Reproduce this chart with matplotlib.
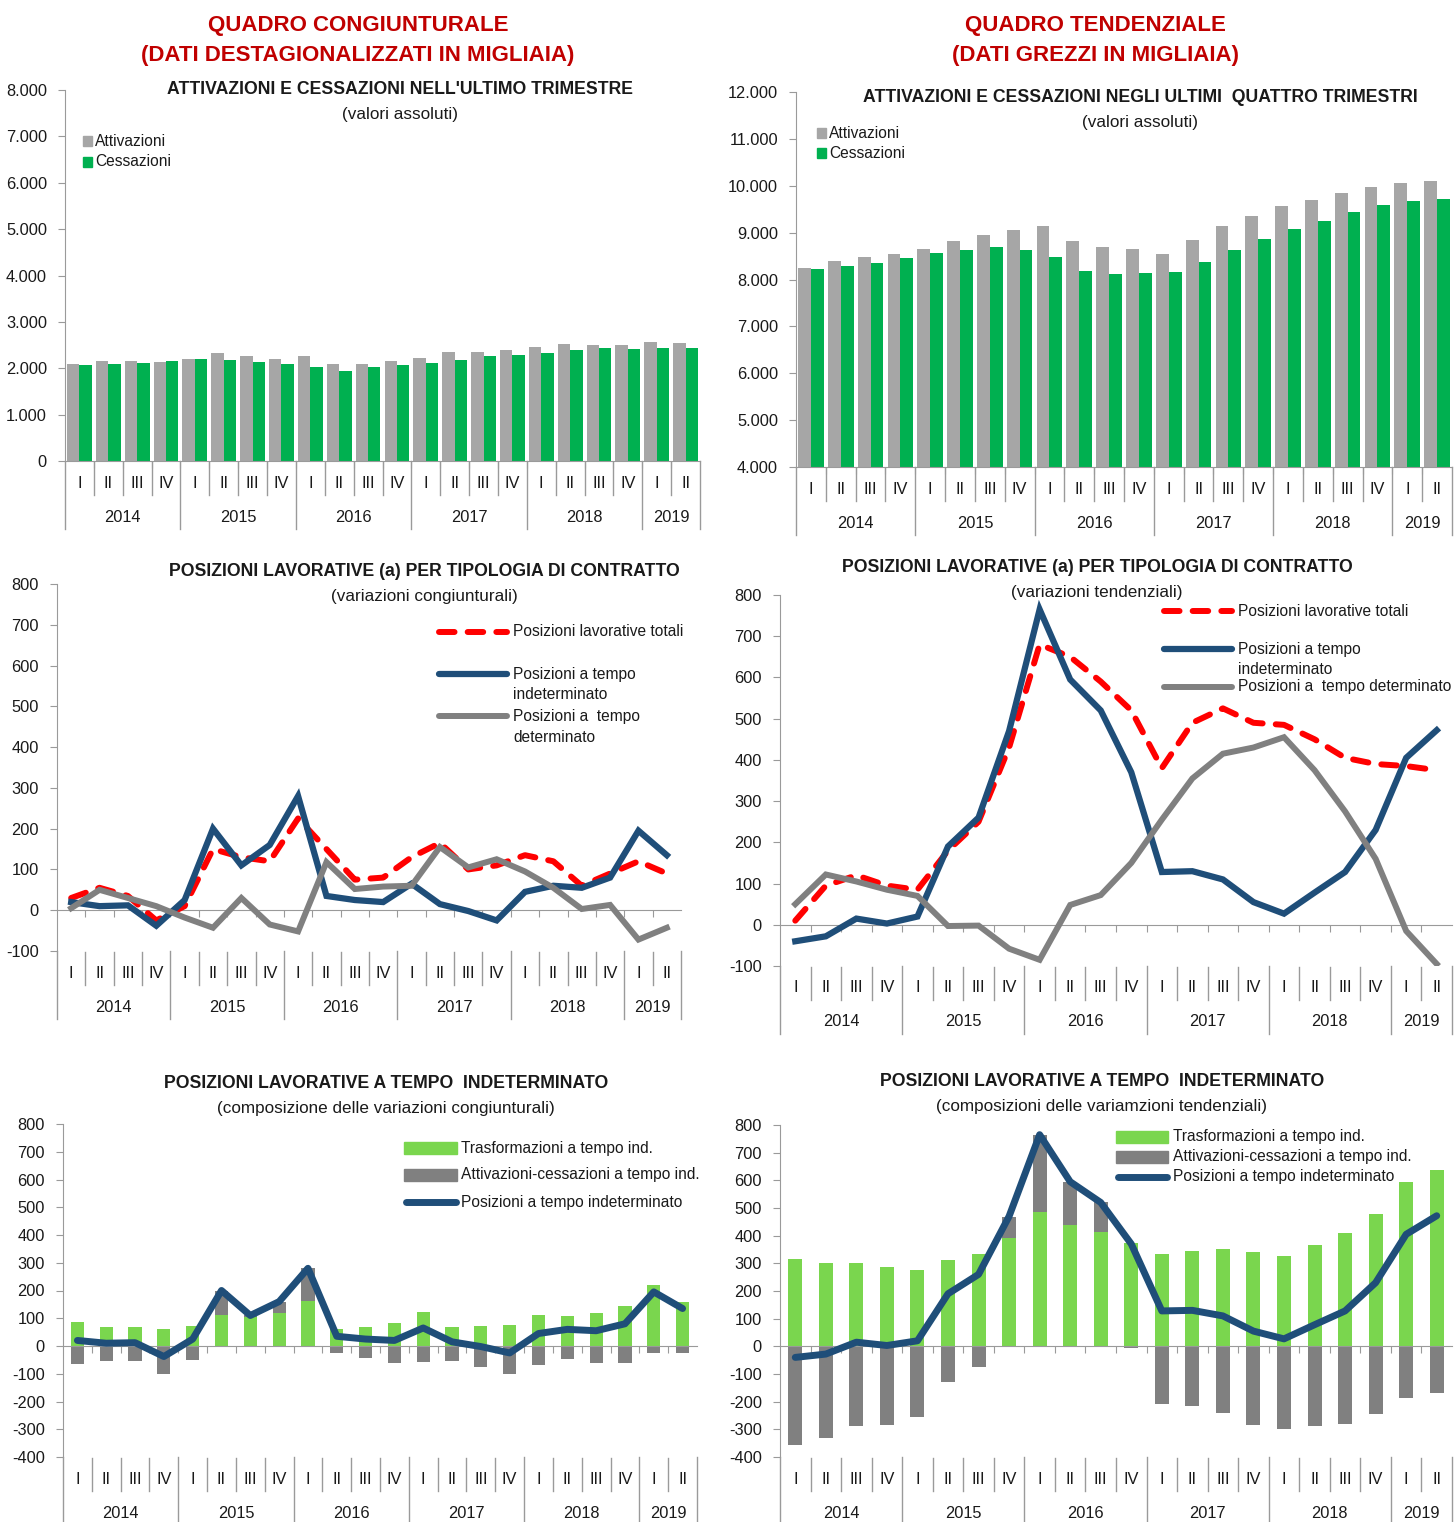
import matplotlib
matplotlib.use('Agg')
import matplotlib.pyplot as plt
import numpy as np
from matplotlib.lines import Line2D
from matplotlib.patches import Rectangle
from matplotlib.ticker import FuncFormatter

plt.rcParams['font.family'] = ['Liberation Sans', 'DejaVu Sans']
plt.rcParams['axes.unicode_minus'] = False

W, H = 1455, 1522

# --- data (migliaia) ---
quarters = ['I', 'II', 'III', 'IV'] * 5 + ['I', 'II']
years = ['2014', '2015', '2016', '2017', '2018', '2019']
year_len = [4, 4, 4, 4, 4, 2]

# congiunturale, valori assoluti ultimo trimestre
att_cong = [2100, 2150, 2150, 2125, 2190, 2330, 2270, 2210, 2260, 2100, 2100, 2150,
            2230, 2350, 2360, 2390, 2460, 2520, 2500, 2510, 2560, 2540]
cess_cong = [2075, 2100, 2110, 2150, 2190, 2180, 2130, 2090, 2030, 1940, 2020, 2080,
             2110, 2180, 2260, 2280, 2320, 2400, 2440, 2410, 2430, 2440]

# tendenziale, ultimi quattro trimestri
att_tend = [8240, 8390, 8480, 8550, 8650, 8820, 8940, 9050, 9150, 8820, 8700, 8650,
            8550, 8850, 9150, 9350, 9560, 9700, 9840, 9970, 10060, 10100]
cess_tend = [8230, 8290, 8360, 8460, 8570, 8630, 8690, 8640, 8470, 8180, 8110, 8130,
             8170, 8370, 8620, 8860, 9080, 9240, 9440, 9580, 9670, 9720]

# variazioni congiunturali
tot_cong = [30, 55, 35, -25, 10, 150, 130, 120, 225, 150, 75, 80,
            130, 165, 100, 110, 135, 120, 60, 90, 120, 90]
ind_cong = [20, 10, 12, -38, 25, 200, 110, 160, 280, 35, 25, 20,
            65, 15, -2, -25, 45, 60, 55, 80, 195, 135]
det_cong = [5, 50, 30, 10, -18, -43, 30, -35, -52, 118, 52, 58,
            60, 155, 105, 125, 95, 55, 3, 13, -72, -43]

# variazioni tendenziali
tot_tend = [10, 95, 120, 95, 85, 180, 250, 430, 680, 650, 590, 520,
            380, 490, 525, 490, 485, 450, 405, 390, 385, 375]
ind_tend = [-40, -28, 15, 3, 20, 190, 260, 470, 765, 595, 520, 370,
            128, 130, 110, 55, 27, 78, 128, 230, 405, 472]
det_tend = [50, 122, 105, 85, 70, -3, -2, -58, -85, 48, 72, 150,
            255, 355, 415, 430, 455, 375, 275, 160, -15, -95]

# composizione tempo indeterminato
trasf_cong = [88, 68, 70, 63, 73, 110, 103, 120, 163, 60, 68, 83,
              123, 70, 73, 75, 110, 108, 118, 143, 220, 157]
attcess_cong = [-65, -55, -55, -100, -52, 88, 7, 40, 117, -25, -42, -63,
                -57, -55, -75, -100, -68, -47, -62, -60, -25, -25]
trasf_tend = [315, 303, 300, 288, 275, 313, 333, 390, 487, 437, 413, 375,
              333, 345, 352, 340, 326, 365, 408, 478, 593, 638]
attcess_tend = [-355, -330, -288, -285, -255, -128, -75, 77, 278, 158, 107, -5,
                -207, -215, -242, -285, -298, -288, -282, -243, -188, -168]

GRAY_BAR = '#A6A6A6'
GREEN_BAR = '#00B050'
LGREEN = '#7AD64E'
DGRAY = '#808080'
RED = '#FF0000'
BLUE = '#1F4E79'
LGRAY = '#808080'
AXC = '#9A9A9A'
TXT = '#1A1A1A'
FS = 11.3      # tick / label size
FS_LEG = 11.2

fig = plt.figure(figsize=(W / 100, H / 100), dpi=100)


def fx(x):
    return x / W


def fy(y):
    return 1 - y / H


def make_ax(left, top, right, bottom):
    return fig.add_axes([fx(left), fy(bottom), (right - left) / W, (bottom - top) / H])


def dots(v, pos):
    return '{:,.0f}'.format(v).replace(',', '.')


def style_ax(ax, ymin, ymax, step, fmt=None, zero=None):
    n = len(quarters)
    ax.set_xlim(-0.5, n - 0.5)
    ax.set_ylim(ymin, ymax)
    ax.set_yticks(np.arange(ymin, ymax + 1, step))
    if fmt is not None:
        ax.yaxis.set_major_formatter(FuncFormatter(fmt))
    for s in ['top', 'right']:
        ax.spines[s].set_visible(False)
    ax.spines['left'].set_color(AXC)
    ax.spines['bottom'].set_color(AXC)
    if zero is not None:
        ax.spines['bottom'].set_position(('data', zero))
    ax.set_xticks(np.arange(0.5, n - 1, 1))
    ax.set_xticklabels([])
    ax.tick_params(axis='x', length=5, color=AXC, direction='out')
    ax.tick_params(axis='y', length=5, color=AXC, labelsize=FS + 0.5, labelcolor=TXT, pad=8)
    ax.set_facecolor('none')

    # category zone below the plot area
    axh = ax.get_position().height * H
    trans = ax.get_xaxis_transform()
    def yf(px):
        return -px / axh
    for i, q in enumerate(quarters):
        ax.text(i, yf(22), q, transform=trans, ha='center', va='center',
                fontsize=FS + 0.5, color=TXT)
    bounds = np.cumsum(year_len)
    start = 0
    for yr, ln in zip(years, year_len):
        ax.text(start + ln / 2 - 0.5, yf(56), yr, transform=trans, ha='center',
                va='center', fontsize=FS + 0.5, color=TXT)
        start += ln
    for i in range(n + 1):
        x = i - 0.5
        if i == 0 or i == n or i in bounds:
            y0, y1 = 0, yf(68)
        else:
            y0, y1 = yf(1), yf(34)
        ax.add_line(Line2D([x, x], [y0, y1], transform=trans, color=AXC,
                           lw=1, clip_on=False))


def title(cx, y, t, sub):
    fig.text(fx(cx), fy(y), t, ha='center', va='center', fontsize=12.7,
             fontweight='bold', color=TXT)
    fig.text(fx(cx), fy(y + 25), sub, ha='center', va='center', fontsize=12.3, color=TXT)


def leg_square(x, y, color, label):
    fig.patches.append(Rectangle((fx(x), fy(y + 5)), 9 / W, 10 / H, color=color,
                                 transform=fig.transFigure))
    fig.text(fx(x + 12), fy(y), label, ha='left', va='center', fontsize=FS_LEG, color=TXT)


def leg_line(x0, x1, y, color, lw, dashes=None):
    ln = Line2D([fx(x0), fx(x1)], [fy(y), fy(y)], transform=fig.transFigure,
                color=color, lw=lw, solid_capstyle='round', dash_capstyle='round')
    if dashes is not None:
        ln.set_dashes(dashes)
    fig.lines.append(ln)


def leg_bar(x0, x1, y, color):
    fig.patches.append(Rectangle((fx(x0), fy(y + 6)), (x1 - x0) / W, 12 / H, color=color,
                                 transform=fig.transFigure))


def leg_text(x, y, s):
    fig.text(fx(x), fy(y), s, ha='left', va='center', fontsize=FS_LEG, color=TXT)


# red headers
RED_H = '#C00000'
for cx, l1, l2 in [(358, 'QUADRO CONGIUNTURALE', '(DATI DESTAGIONALIZZATI IN MIGLIAIA)'),
                   (1095, 'QUADRO TENDENZIALE', '(DATI GREZZI IN MIGLIAIA)')]:
    fig.text(fx(cx), fy(25), l1, ha='center', va='center', fontsize=16,
             fontweight='bold', color=RED_H)
    fig.text(fx(cx), fy(56), l2, ha='center', va='center', fontsize=16,
             fontweight='bold', color=RED_H)

x = np.arange(len(quarters))
bw = 0.43

# panel 1
ax1 = make_ax(65, 90, 700, 461)
style_ax(ax1, 0, 8000, 1000, dots)
ax1.bar(x - 0.215, att_cong, bw, color=GRAY_BAR, zorder=2)
ax1.bar(x + 0.215, cess_cong, bw, color=GREEN_BAR, zorder=2)
title(400, 90, "ATTIVAZIONI E CESSAZIONI NELL'ULTIMO TRIMESTRE", '(valori assoluti)')
leg_square(83, 141, GRAY_BAR, 'Attivazioni')
leg_square(83, 162, GREEN_BAR, 'Cessazioni')

# panel 2
ax2 = make_ax(796, 92, 1452, 467)
style_ax(ax2, 4000, 12000, 1000, dots)
ax2.bar(x - 0.215, att_tend, bw, color=GRAY_BAR, zorder=2)
ax2.bar(x + 0.215, cess_tend, bw, color=GREEN_BAR, zorder=2)
title(1140, 98, 'ATTIVAZIONI E CESSAZIONI NEGLI ULTIMI  QUATTRO TRIMESTRI', '(valori assoluti)')
leg_square(817, 133, GRAY_BAR, 'Attivazioni')
leg_square(817, 153, GREEN_BAR, 'Cessazioni')

DASH = (2.6, 2.2)

# panel 3
ax3 = make_ax(57, 584, 681, 951)
style_ax(ax3, -100, 800, 100, zero=0)
ax3.plot(x, tot_cong, color=RED, lw=4.3, dashes=DASH, dash_capstyle='round', zorder=3)
ax3.plot(x, ind_cong, color=BLUE, lw=4.5, solid_joinstyle='miter', zorder=4)
ax3.plot(x, det_cong, color=LGRAY, lw=4.3, solid_joinstyle='miter', zorder=5)
title(424, 571, 'POSIZIONI LAVORATIVE (a) PER TIPOLOGIA DI CONTRATTO', '(variazioni congiunturali)')
leg_line(439, 507, 632, RED, 4.3, dashes=DASH)
leg_text(513, 632, 'Posizioni lavorative totali')
leg_line(439, 507, 674, BLUE, 4.5)
leg_text(513, 674, 'Posizioni a tempo')
leg_text(513, 695, 'indeterminato')
leg_line(439, 507, 716, LGRAY, 4.3)
leg_text(513, 716, 'Posizioni a  tempo')
leg_text(513, 737, 'determinato')

# panel 4
ax4 = make_ax(780, 595, 1452, 966)
style_ax(ax4, -100, 800, 100, zero=0)
ax4.plot(x, tot_tend, color=RED, lw=4.3, dashes=DASH, dash_capstyle='round', zorder=3)
ax4.plot(x, ind_tend, color=BLUE, lw=4.5, solid_joinstyle='miter', zorder=4)
ax4.plot(x, det_tend, color=LGRAY, lw=4.3, solid_joinstyle='miter', zorder=5)
title(1097, 568, 'POSIZIONI LAVORATIVE (a) PER TIPOLOGIA DI CONTRATTO', '(variazioni tendenziali)')
leg_line(1164, 1232, 611, RED, 4.3, dashes=DASH)
leg_text(1238, 611, 'Posizioni lavorative totali')
leg_line(1164, 1232, 649, BLUE, 4.5)
leg_text(1238, 649, 'Posizioni a tempo')
leg_text(1238, 670, 'indeterminato')
leg_line(1164, 1232, 687, LGRAY, 4.3)
leg_text(1238, 687, 'Posizioni a  tempo determinato')


def stacked(ax, trasf, attcess, line):
    trasf = np.array(trasf)
    attcess = np.array(attcess)
    ax.bar(x, trasf, 0.46, color=LGREEN, zorder=2)
    ax.bar(x, attcess, 0.46, bottom=np.where(attcess > 0, trasf, 0), color=DGRAY, zorder=2)
    ax.plot(x, line, color=BLUE, lw=5, solid_joinstyle='round', solid_capstyle='round', zorder=4)


# panel 5
ax5 = make_ax(63, 1124, 697, 1457)
style_ax(ax5, -400, 800, 100, zero=0)
stacked(ax5, trasf_cong, attcess_cong, ind_cong)
title(386, 1084, 'POSIZIONI LAVORATIVE A TEMPO  INDETERMINATO',
      '(composizione delle variazioni congiunturali)')
leg_bar(404, 457, 1148, LGREEN)
leg_text(461, 1148, 'Trasformazioni a tempo ind.')
leg_bar(404, 457, 1175, DGRAY)
leg_text(461, 1175, 'Attivazioni-cessazioni a tempo ind.')
leg_line(406, 456, 1202, BLUE, 5)
leg_text(461, 1202, 'Posizioni a tempo indeterminato')

# panel 6
ax6 = make_ax(780, 1125, 1452, 1457)
style_ax(ax6, -400, 800, 100, zero=0)
stacked(ax6, trasf_tend, attcess_tend, ind_tend)
title(1102, 1081, 'POSIZIONI LAVORATIVE A TEMPO  INDETERMINATO',
      '(composizioni delle variamzioni tendenziali)')
leg_bar(1116, 1168, 1137, LGREEN)
leg_text(1173, 1137, 'Trasformazioni a tempo ind.')
leg_bar(1116, 1168, 1157, DGRAY)
leg_text(1173, 1157, 'Attivazioni-cessazioni a tempo ind.')
leg_line(1118, 1167, 1177, BLUE, 5)
leg_text(1173, 1177, 'Posizioni a tempo indeterminato')

fig.savefig('out.png', dpi=100)
